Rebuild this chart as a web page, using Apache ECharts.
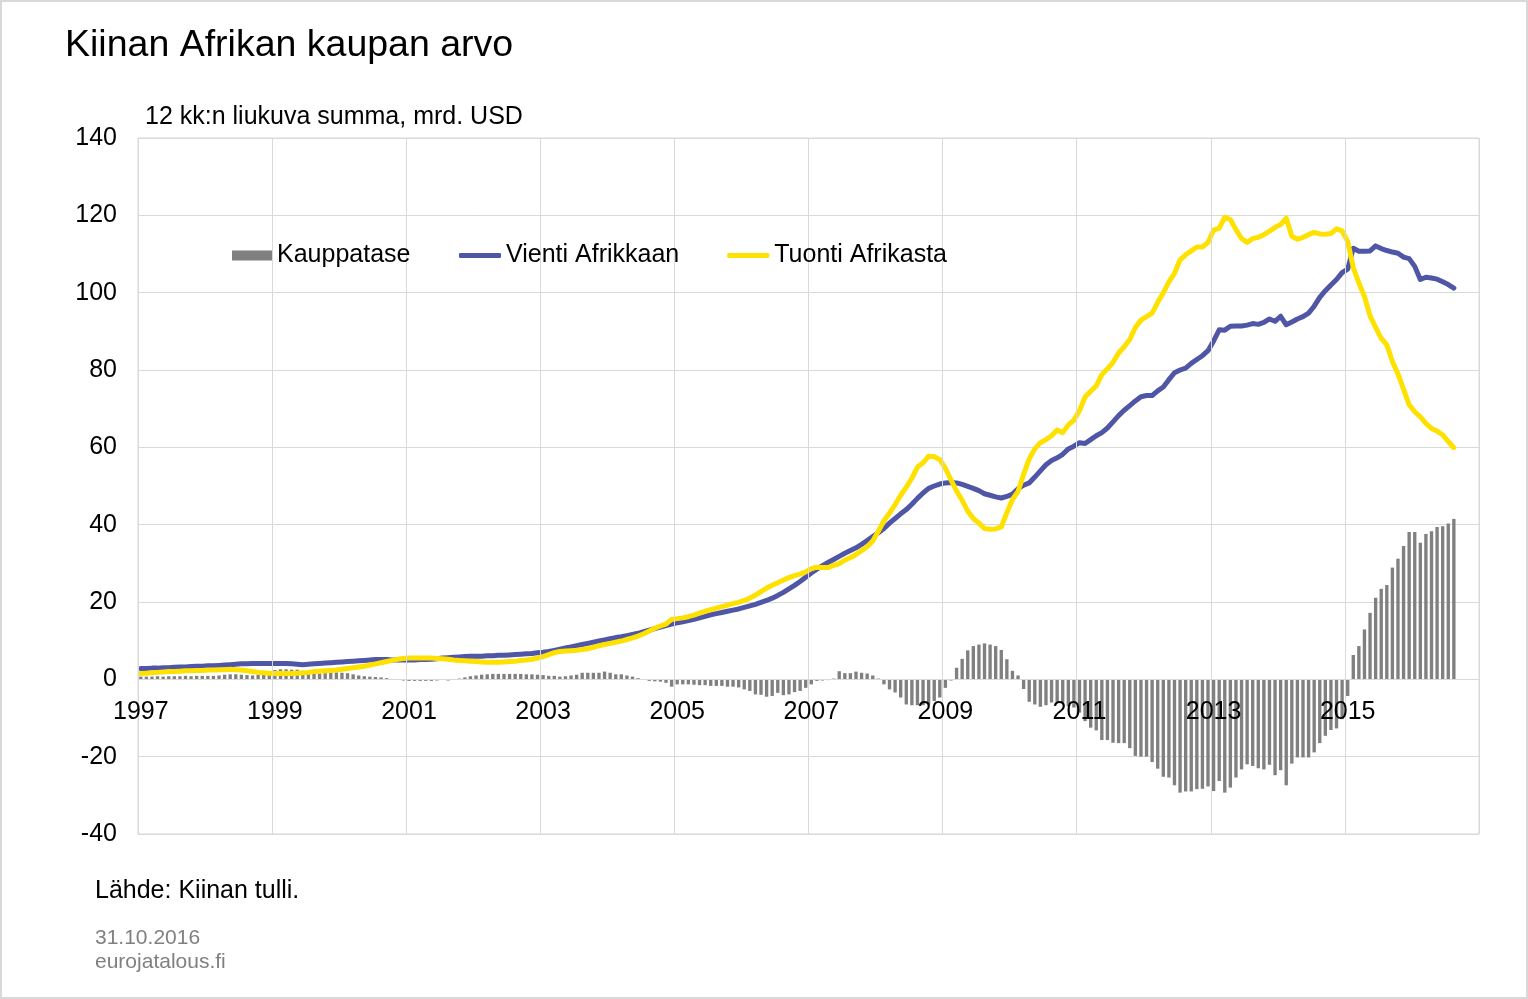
<!DOCTYPE html>
<html><head><meta charset="utf-8">
<script src="https://cdn.jsdelivr.net/npm/echarts@6/dist/echarts.min.js"></script>
<style>html,body{margin:0;padding:0;background:#fff}#c{width:1528px;height:999px}</style>
</head><body><div id="c"></div>
<script>
// Monthly categories Jan 1997 .. Dec 2016 (data through Aug 2016)
const startYear = 1997;
const monthCount = 240;
const seriesNames = ['Kauppatase', 'Vienti Afrikkaan', 'Tuonti Afrikasta'];

// Vienti Afrikkaan (exports to Africa), 12-month rolling sum, bn USD
const vienti = [
  2.8, 2.8, 2.9, 2.9, 3.0, 3.0, 3.1, 3.2, 3.2, 3.3, 3.4, 3.4,
  3.5, 3.5, 3.6, 3.7, 3.8, 3.9, 4.0, 4.0, 4.1, 4.1, 4.1, 4.1,
  4.1, 4.1, 4.1, 4.0, 3.9, 3.8, 3.9, 4.0, 4.1, 4.2, 4.3, 4.4,
  4.5, 4.6, 4.7, 4.8, 4.9, 5.0, 5.1, 5.1, 5.1, 5.0, 5.0, 5.0,
  5.0, 5.0, 5.1, 5.1, 5.2, 5.3, 5.5, 5.6, 5.7, 5.8, 5.9, 6.0,
  6.0, 6.0, 6.1, 6.1, 6.2, 6.2, 6.3, 6.4, 6.5, 6.6, 6.7, 6.9,
  7.0, 7.2, 7.5, 7.8, 8.1, 8.4, 8.7, 9.0, 9.3, 9.6, 9.9, 10.2,
  10.5, 10.8, 11.0, 11.3, 11.6, 11.9, 12.3, 12.7, 13.1, 13.5, 13.9, 14.3,
  14.6, 14.9, 15.2, 15.5, 15.9, 16.3, 16.7, 17.0, 17.3, 17.6, 17.9, 18.2,
  18.6, 19.0, 19.4, 19.9, 20.4, 21.0, 21.7, 22.5, 23.4, 24.3, 25.3, 26.4,
  27.5, 28.5, 29.4, 30.2, 31.0, 31.8, 32.6, 33.3, 34.0, 34.9, 35.9, 36.9,
  37.9, 39.0, 40.4, 41.6, 42.8, 43.9, 45.3, 46.8, 48.2, 49.4, 50.0, 50.5,
  50.8, 50.9, 50.8, 50.4, 49.9, 49.4, 48.8, 48.0, 47.6, 47.2, 46.9, 47.3,
  47.9, 49.3, 50.2, 50.8, 52.3, 53.9, 55.5, 56.6, 57.3, 58.2, 59.6, 60.3,
  61.2, 61.0, 62.0, 63.0, 63.8, 65.0, 66.6, 68.2, 69.6, 70.8, 72.0, 73.1,
  73.4, 73.4, 74.6, 75.6, 77.5, 79.3, 80.0, 80.5, 81.7, 82.7, 83.7, 85.0,
  87.5, 90.4, 90.3, 91.3, 91.4, 91.4, 91.6, 92.0, 91.8, 92.3, 93.2, 92.6,
  93.9, 91.7, 92.4, 93.2, 93.8, 94.7, 96.5, 98.8, 100.5, 102.0, 103.4, 105.2,
  106.1, 111.5, 110.7, 110.7, 110.8, 112.1, 111.4, 110.9, 110.5, 110.2, 109.2, 108.8,
  106.8, 103.4, 104.0, 103.8, 103.5, 102.8, 102.1, 101.2
];

// Tuonti Afrikasta (imports from Africa)
const tuonti = [
  1.5, 1.6, 1.7, 1.8, 1.9, 2.0, 2.0, 2.1, 2.2, 2.2, 2.3, 2.3,
  2.4, 2.4, 2.5, 2.5, 2.6, 2.5, 2.4, 2.2, 2.0, 1.8, 1.7, 1.6,
  1.5, 1.5, 1.5, 1.5, 1.6, 1.7, 1.8, 2.0, 2.1, 2.2, 2.3, 2.4,
  2.6, 2.8, 3.0, 3.2, 3.4, 3.7, 4.0, 4.3, 4.6, 4.9, 5.2, 5.4,
  5.5, 5.5, 5.5, 5.5, 5.5, 5.4, 5.3, 5.2, 5.0, 4.9, 4.8, 4.7,
  4.6, 4.5, 4.4, 4.4, 4.4, 4.5, 4.6, 4.7, 4.9, 5.0, 5.2, 5.5,
  5.9, 6.4, 6.9, 7.2, 7.3, 7.4, 7.5, 7.7, 7.9, 8.3, 8.7, 9.0,
  9.3, 9.6, 9.9, 10.3, 10.7, 11.2, 11.8, 12.5, 13.2, 13.8, 14.3, 15.5,
  15.7, 15.9, 16.2, 16.6, 17.1, 17.6, 18.0, 18.4, 18.8, 19.2, 19.6, 19.9,
  20.4, 21.0, 21.8, 22.7, 23.6, 24.3, 25.0, 25.7, 26.3, 26.8, 27.2, 27.8,
  28.6, 29.0, 28.9, 28.9, 29.5, 29.9, 30.8, 31.5, 32.3, 33.3, 34.3, 35.8,
  38.3, 41.0, 43.0, 45.2, 47.6, 49.7, 52.0, 54.9, 56.0, 57.7, 57.6, 56.8,
  54.6, 51.6, 48.7, 46.3, 43.5, 41.6, 40.4, 39.0, 38.8, 38.9, 39.4, 43.1,
  46.5, 48.6, 53.0, 57.0, 59.6, 61.2, 62.0, 63.0, 64.5, 63.8, 65.8, 67.0,
  69.5, 73.0, 74.5, 75.9, 78.8, 80.3, 82.0, 84.4, 86.0, 87.9, 91.0, 92.9,
  93.8, 94.7, 97.5, 100.0, 102.8, 105.0, 108.5, 109.8, 110.8, 111.8, 111.8, 113.0,
  116.2, 116.7, 119.5, 118.9, 116.3, 114.0, 113.0, 114.0, 114.3, 115.0, 115.9, 116.9,
  117.6, 119.3, 114.6, 113.8, 114.3, 115.0, 115.6, 115.2, 115.1, 115.3, 116.5, 116.0,
  113.2, 106.5, 102.5, 99.0, 94.0, 91.0, 88.2, 86.5, 82.2, 79.0, 75.0, 71.0,
  69.2, 67.9, 66.2, 64.9, 64.2, 63.2, 61.5, 59.9
];

// Kauppatase (trade balance)
const kauppatase = [
  0.7, 0.7, 0.7, 0.8, 0.7, 0.8, 0.8, 0.8, 0.9, 0.8, 0.9, 0.9,
  0.9, 0.9, 1.0, 1.2, 1.3, 1.3, 1.2, 1.1, 1.0, 1.2, 1.6, 2.0,
  2.4, 2.6, 2.6, 2.5, 2.5, 2.2, 1.8, 1.6, 1.5, 1.6, 1.7, 1.8,
  1.7, 1.6, 1.3, 1.0, 0.8, 0.7, 0.6, 0.5, 0.3, 0.1, -0.1, -0.3,
  -0.4, -0.4, -0.4, -0.4, -0.4, -0.3, -0.1, -0.3, 0.1, 0.2, 0.5, 0.8,
  1.0, 1.2, 1.3, 1.4, 1.4, 1.4, 1.4, 1.4, 1.4, 1.3, 1.3, 1.2,
  1.1, 0.9, 0.9, 0.7, 0.8, 1.0, 1.2, 1.7, 1.7, 1.7, 1.7, 2.0,
  1.7, 1.3, 1.3, 1.0, 0.7, 0.3, 0.0, -0.4, -0.5, -0.6, -0.9, -1.9,
  -1.3, -1.3, -1.3, -1.4, -1.5, -1.5, -1.7, -1.7, -1.7, -1.9, -1.9, -2.1,
  -2.6, -3.0, -3.9, -4.0, -4.5, -4.3, -3.5, -4.1, -3.9, -3.3, -3.0, -2.2,
  -1.3, -0.4, -0.3, -0.2, 0.2, 2.1, 1.6, 1.6, 2.0, 1.7, 1.5, 1.0,
  0.2, -1.3, -2.6, -3.4, -4.7, -6.5, -6.7, -6.7, -6.7, -6.5, -5.6, -4.7,
  -2.2, -0.3, 3.0, 5.3, 7.5, 8.6, 9.0, 9.3, 9.0, 8.6, 7.6, 5.2,
  2.2, 1.0, -2.5, -5.8, -6.5, -7.1, -6.7, -6.0, -5.8, -6.0, -6.9, -7.3,
  -8.6, -10.8, -12.5, -13.2, -15.7, -15.7, -16.4, -16.5, -16.5, -17.8, -19.8, -20.0,
  -20.0, -21.4, -23.1, -25.2, -25.4, -27.4, -29.3, -29.0, -29.0, -28.4, -28.3, -27.7,
  -28.9, -26.3, -29.3, -28.0, -25.4, -23.3, -22.0, -22.4, -23.0, -23.3, -22.1, -24.8,
  -23.5, -27.4, -21.8, -20.2, -20.2, -20.2, -18.9, -16.5, -14.6, -13.1, -12.7, -10.3,
  -4.3, 6.3, 8.6, 12.9, 17.2, 21.1, 23.4, 24.4, 28.9, 31.2, 34.5, 38.1,
  38.1, 35.3, 37.6, 38.3, 39.4, 39.6, 40.3, 41.5
];

const yMin = -40, yMax = 140, yStep = 20;

const months = [];
for (let k = 0; k < monthCount; k++) {
  months.push((startYear + Math.floor(k / 12)) + '-' + String(k % 12 + 1).padStart(2, '0'));
}

const FONT = '"Liberation Sans", Arial, sans-serif';
const GRID_TOP = 138, GRID_BOTTOM = 165, H = 999;
const plotH = H - GRID_TOP - GRID_BOTTOM;
// shift the category axis up to the zero level of the value axis
const zeroOffset = -plotH * (0 - yMin) / (yMax - yMin);

const chart = echarts.init(document.getElementById('c'), null, { renderer: 'canvas' });
chart.setOption({
  backgroundColor: '#ffffff',
  animation: false,
  textStyle: { fontFamily: FONT },
  title: [
    { text: 'Kiinan Afrikan kaupan arvo', left: 65, top: 27, padding: 0,
      textStyle: { fontSize: 37.5, fontWeight: 'normal', color: '#000', fontFamily: FONT } },
    { text: '12 kk:n liukuva summa, mrd. USD', left: 145, top: 105, padding: 0,
      textStyle: { fontSize: 25, fontWeight: 'normal', color: '#000', fontFamily: FONT } },
    { text: 'Lähde: Kiinan tulli.', left: 95, top: 879, padding: 0,
      textStyle: { fontSize: 25, fontWeight: 'normal', color: '#000', fontFamily: FONT } },
    { text: '31.10.2016', left: 95, top: 928, padding: 0,
      textStyle: { fontSize: 21, fontWeight: 'normal', color: '#808080', fontFamily: FONT } },
    { text: 'eurojatalous.fi', left: 95, top: 952, padding: 0,
      textStyle: { fontSize: 21, fontWeight: 'normal', color: '#808080', fontFamily: FONT } }
  ],
  graphic: [
    { type: 'rect', shape: { x: 1, y: 1, width: 1526, height: 997 },
      style: { fill: 'none', stroke: '#d9d9d9', lineWidth: 2 }, silent: true }
  ],
  legend: [
    {
      left: 232, top: 243, padding: 0, z: 20,
      itemWidth: 40, itemHeight: 10, itemGap: 50,
      textStyle: { fontSize: 25, color: '#000', fontFamily: FONT },
      data: [{ name: seriesNames[0], icon: 'rect' }]
    },
    {
      left: 459, top: 243, padding: 0, z: 20,
      itemWidth: 42, itemHeight: 5, itemGap: 48,
      textStyle: { fontSize: 25, color: '#000', fontFamily: FONT },
      data: [
        { name: seriesNames[1], icon: 'roundRect' },
        { name: seriesNames[2], icon: 'roundRect' }
      ]
    }
  ],
  grid: { left: 138, right: 49, top: GRID_TOP, bottom: GRID_BOTTOM, show: true, borderColor: '#d9d9d9', borderWidth: 1 },
  xAxis: {
    type: 'category',
    data: months,
    boundaryGap: true,
    z: 10,
    offset: zeroOffset,
    axisLine: { show: true, onZero: false, lineStyle: { color: '#d9d9d9', width: 1 } },
    axisTick: { show: false },
    axisLabel: {
      interval: 23, margin: 20, fontSize: 25, color: '#000', fontFamily: FONT,
      formatter: v => v.slice(0, 4)
    },
    splitLine: { show: true, interval: 23, lineStyle: { color: '#d9d9d9', width: 1 } }
  },
  yAxis: {
    type: 'value', min: yMin, max: yMax, interval: yStep,
    axisLine: { show: false }, axisTick: { show: false },
    axisLabel: { margin: 21, fontSize: 25, color: '#000', fontFamily: FONT },
    splitLine: { lineStyle: { color: '#d9d9d9', width: 1 } }
  },
  series: [
    { name: seriesNames[0], type: 'bar', data: kauppatase, barWidth: '60%',
      itemStyle: { color: '#808080' } },
    { name: seriesNames[1], type: 'line', data: vienti, symbol: 'none', showSymbol: false,
      lineStyle: { color: '#4F56A6', width: 5, cap: 'round', join: 'round' }, itemStyle: { color: '#4F56A6' } },
    { name: seriesNames[2], type: 'line', data: tuonti, symbol: 'none', showSymbol: false,
      lineStyle: { color: '#FFE100', width: 5, cap: 'round', join: 'round' }, itemStyle: { color: '#FFE100' } }
  ]
});
</script>
</body></html>
